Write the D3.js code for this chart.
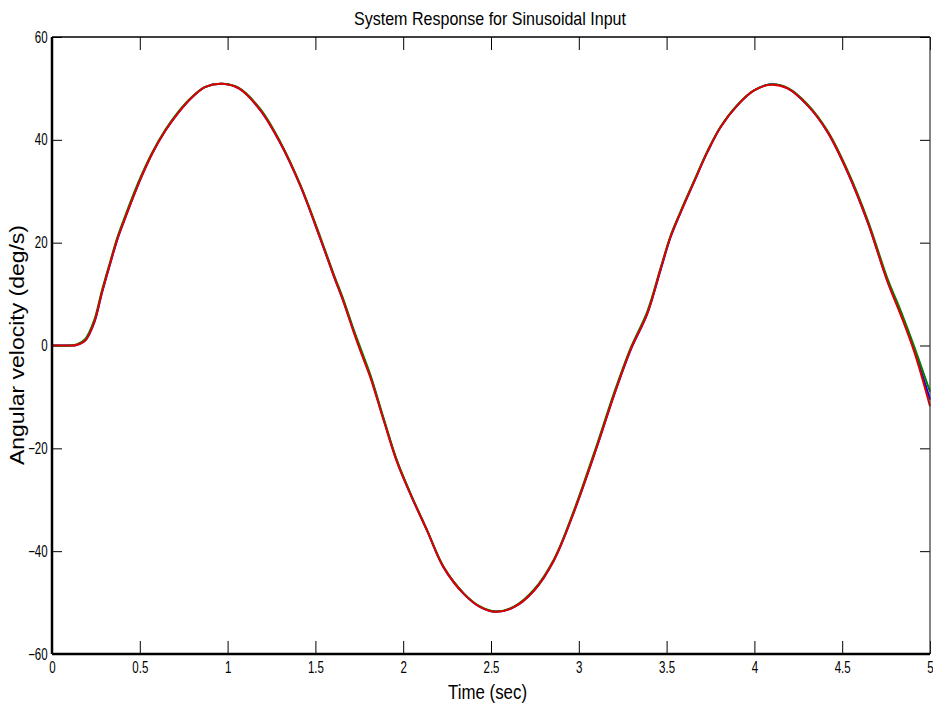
<!DOCTYPE html>
<html>
<head>
<meta charset="utf-8">
<script src="https://cdn.jsdelivr.net/npm/d3@7"></script>
<style>
  body { margin: 0; background: #fff; }
  text { fill: #000; font-family: "Liberation Sans", Arial, sans-serif; }
</style>
</head>
<body>
<div id="chart"></div>
<script>
// time samples (sec)
var time = [0, 0.10, 0.14, 0.19, 0.24, 0.285, 0.333, 0.371, 0.409, 0.466, 0.513, 0.570, 0.646, 0.722, 0.798, 0.874, 0.969,
  1.064, 1.186, 1.300, 1.414, 1.528, 1.604, 1.661, 1.718, 1.760, 1.813, 1.889, 1.965, 2.041, 2.136, 2.231, 2.345, 2.440,
  2.526, 2.630, 2.744, 2.858, 2.972, 3.105, 3.200, 3.295, 3.390, 3.466, 3.523, 3.580, 3.656, 3.732, 3.808, 3.903, 3.998,
  4.093, 4.189, 4.303, 4.417, 4.531, 4.645, 4.759, 4.835, 4.911, 5.0];

// angular velocity (deg/s), three nearly identical responses
var velBlue = [0, 0, 0.1, 1.0, 4.4, 10.3, 16.1, 20.5, 24.1, 29.2, 33.1, 37.3, 41.8, 45.4, 48.3, 50.3, 50.9,
  50.0, 45.8, 39.4, 31.1, 20.8, 13.6, 8.5, 2.8, -1.2, -6.0, -14.4, -22.6, -28.9, -36.0, -43.2, -48.3, -50.9,
  -51.8, -50.9, -47.7, -41.8, -32.4, -19.5, -9.7, -0.9, 6.2, 14.7, 21.1, 25.9, 31.8, 37.6, 42.5, 46.7, 49.6,
  50.8, 50.0, 46.7, 41.5, 33.7, 24.0, 12.4, 6.0, -1.0, -10.5];
var velGreen = [0, 0, 0.2, 1.3, 4.9, 10.8, 16.5, 20.9, 24.5, 29.6, 33.4, 37.5, 42.0, 45.6, 48.4, 50.3, 50.9,
  50.1, 46.0, 39.6, 31.3, 21.1, 13.9, 8.8, 3.1, -0.8, -5.7, -14.2, -22.4, -28.7, -35.9, -43.1, -48.2, -50.8,
  -51.7, -50.8, -47.5, -41.6, -32.1, -19.1, -9.3, -0.5, 6.6, 15.1, 21.4, 26.1, 32.0, 37.8, 42.6, 46.8, 49.6,
  50.8, 50.1, 46.9, 41.7, 34.0, 24.4, 12.9, 6.6, -0.3, -9.0];
var velRed = [0, 0, 0.1, 1.0, 4.5, 10.4, 16.2, 20.6, 24.1, 29.2, 33.1, 37.3, 41.8, 45.4, 48.3, 50.3, 50.9,
  50.0, 45.8, 39.4, 31.1, 20.8, 13.6, 8.4, 2.6, -1.4, -6.2, -14.6, -22.7, -28.9, -36.0, -43.2, -48.3, -50.9,
  -51.8, -50.9, -47.7, -41.8, -32.4, -19.5, -9.7, -0.8, 6.2, 14.9, 21.2, 25.9, 31.8, 37.6, 42.5, 46.7, 49.6,
  50.7, 50.0, 46.7, 41.5, 33.7, 24.0, 12.3, 5.8, -1.3, -11.8];

var seriesNames = ["blue", "green", "red"];
var seriesValues = [velBlue, velGreen, velRed];
var seriesColors = ["#0000ff", "#008000", "#e00000"];

var xTicks = [0, 0.5, 1, 1.5, 2, 2.5, 3, 3.5, 4, 4.5, 5];
var yTicks = [-60, -40, -20, 0, 20, 40, 60];

// chart size
var svgWidth = 933;
var svgHeight = 711;
var margin = { top: 37, right: 3, bottom: 57, left: 52 };
var width = svgWidth - margin.left - margin.right;
var height = svgHeight - margin.top - margin.bottom;

var svg = d3.select("#chart").append("svg")
  .attr("width", svgWidth)
  .attr("height", svgHeight);

var g = svg.append("g")
  .attr("transform", `translate(${margin.left}, ${margin.top})`);

var xScale = d3.scaleLinear().domain([0, 5]).range([0, width]);
var yScale = d3.scaleLinear().domain([-60, 60]).range([height, 0]);

// axes with inward ticks
var bottomAxis = d3.axisBottom(xScale).tickValues(xTicks).tickSize(-13).tickPadding(8)
  .tickFormat(d3.format("~g"));
var topAxis = d3.axisTop(xScale).tickValues(xTicks).tickSize(-13).tickFormat("");
var leftAxis = d3.axisLeft(yScale).tickValues(yTicks).tickSize(-10).tickPadding(6)
  .tickFormat(d3.format("~g"));
var rightAxis = d3.axisRight(yScale).tickValues(yTicks).tickSize(-10).tickFormat("");

function styleAxis(sel) {
  sel.select(".domain").remove();
  sel.selectAll(".tick line").attr("stroke", "#000").attr("stroke-width", 1);
  // condensed look like the original narrow font
  sel.selectAll(".tick text")
    .style("font-size", "16px")
    .attr("fill", "#000")
    .attr("transform", "scale(0.72,1)");
}

g.append("g").attr("transform", `translate(0, ${height})`).call(bottomAxis).call(styleAxis);
g.append("g").call(topAxis).call(styleAxis);
g.append("g").call(leftAxis).call(styleAxis);
g.append("g").attr("transform", `translate(${width}, 0)`).call(rightAxis).call(styleAxis);

// lines
var line = d3.line()
  .x((d, i) => xScale(time[i]))
  .y(d => yScale(d))
  .curve(d3.curveCatmullRom.alpha(0.5));

seriesValues.forEach(function(vals, k) {
  g.append("path")
    .datum(vals)
    .attr("class", "series-" + seriesNames[k])
    .attr("fill", "none")
    .attr("stroke", seriesColors[k])
    .attr("stroke-width", 2)
    .attr("d", line);
});

// frame
g.append("line").attr("x1", 0).attr("x2", width).attr("y1", 0).attr("y2", 0)
  .attr("stroke", "#000").attr("stroke-width", 1.5);
g.append("line").attr("x1", width).attr("x2", width).attr("y1", 0).attr("y2", height)
  .attr("stroke", "#333").attr("stroke-width", 1.2);
g.append("line").attr("x1", 0).attr("x2", width).attr("y1", height).attr("y2", height)
  .attr("stroke", "#000").attr("stroke-width", 2.5);
g.append("line").attr("x1", 0).attr("x2", 0).attr("y1", 0).attr("y2", height)
  .attr("stroke", "#000").attr("stroke-width", 2.5);

// labels
svg.append("text")
  .attr("x", 354)
  .attr("y", 25)
  .attr("textLength", 272)
  .attr("lengthAdjust", "spacingAndGlyphs")
  .style("font-size", "19px")
  .text("System Response for Sinusoidal Input");

svg.append("text")
  .attr("x", 448)
  .attr("y", 699)
  .attr("textLength", 79)
  .attr("lengthAdjust", "spacingAndGlyphs")
  .style("font-size", "20px")
  .text("Time (sec)");

svg.append("text")
  .attr("transform", "rotate(-90)")
  .attr("x", -465)
  .attr("y", 24)
  .attr("textLength", 240)
  .attr("lengthAdjust", "spacingAndGlyphs")
  .style("font-size", "20px")
  .text("Angular velocity (deg/s)");
</script>
</body>
</html>
